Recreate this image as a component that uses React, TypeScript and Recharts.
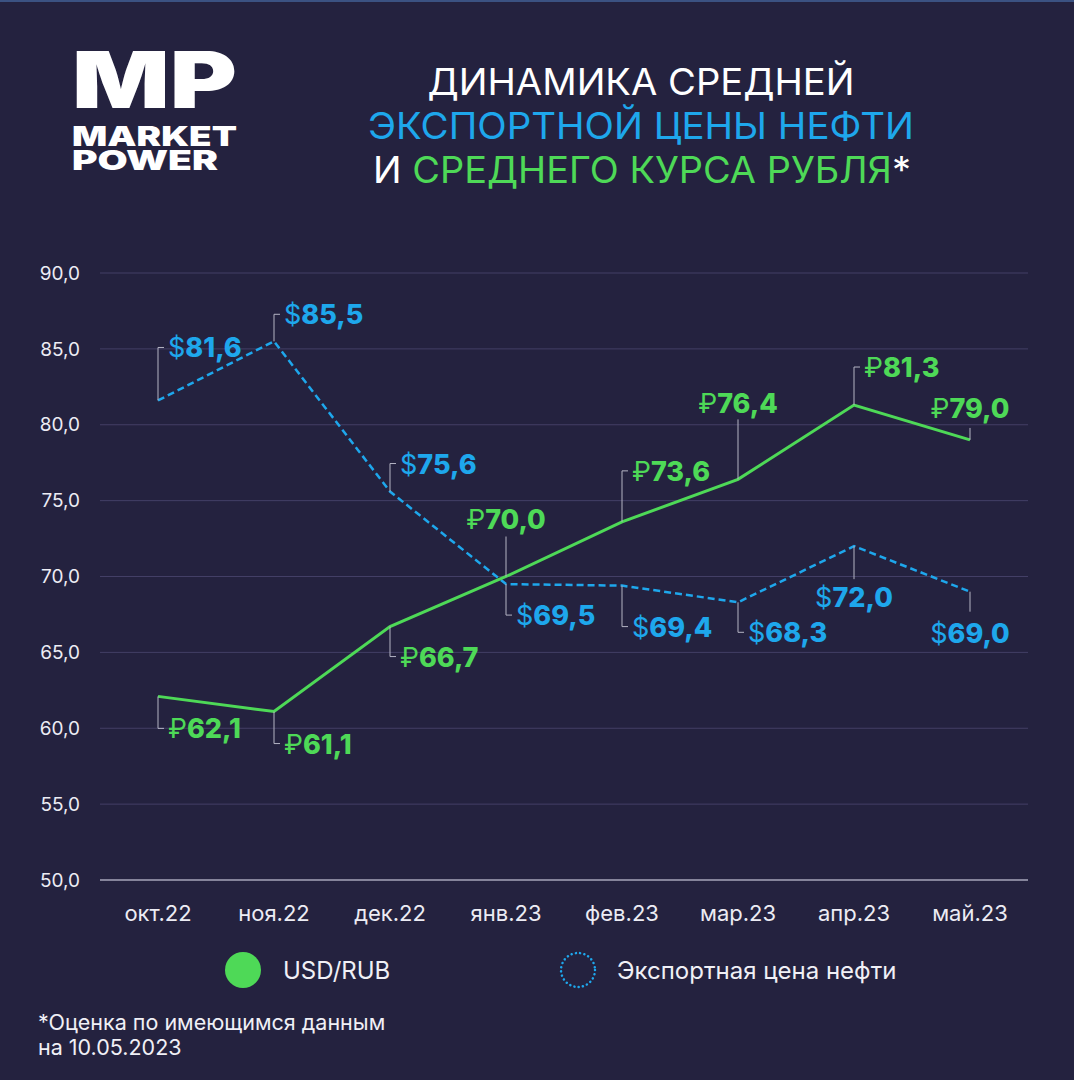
import { CartesianGrid, LabelList, Line, LineChart, XAxis, YAxis } from "recharts";

const months = ["окт.22", "ноя.22", "дек.22", "янв.23", "фев.23", "мар.23", "апр.23", "май.23"];
const usdRub = [62.1, 61.1, 66.7, 70.0, 73.6, 76.4, 81.3, 79.0];
const oilPrice = [81.6, 85.5, 75.6, 69.5, 69.4, 68.3, 72.0, 69.0];
const yTicks = [50, 55, 60, 65, 70, 75, 80, 85, 90];

// label placement: side = text to the right of the leader, center = text centred over the point
type Place = { dir: "up" | "down"; mode: "side" | "center"; len: number; gap?: number };
const rubPlaces: Place[] = [
  { dir: "down", mode: "side", len: 32 },
  { dir: "down", mode: "side", len: 32 },
  { dir: "down", mode: "side", len: 30 },
  { dir: "up", mode: "center", len: 40, gap: 8 },
  { dir: "up", mode: "side", len: 51 },
  { dir: "up", mode: "center", len: 60, gap: 6 },
  { dir: "up", mode: "side", len: 38 },
  { dir: "up", mode: "center", len: 12, gap: 10 },
];
const oilPlaces: Place[] = [
  { dir: "up", mode: "side", len: 53 },
  { dir: "up", mode: "side", len: 27 },
  { dir: "up", mode: "side", len: 28 },
  { dir: "down", mode: "side", len: 31 },
  { dir: "down", mode: "side", len: 41 },
  { dir: "down", mode: "side", len: 30 },
  { dir: "down", mode: "center", len: 33, gap: 8 },
  { dir: "down", mode: "center", len: 20, gap: 11 },
];

const data = months.map((m, i) => ({ month: m, rub: usdRub[i], oil: oilPrice[i] }));

const BG = "#24223f";
const GREEN = "#4ed957";
const BLUE = "#1ea7ec";
const FONT = "Inter, 'Noto Sans', sans-serif";

const fmt = (v: number) => v.toFixed(1).replace(".", ",");

function makeLabel(symbol: string, color: string, places: Place[]) {
  return (props: any) => {
    const { x, y, value, index } = props;
    const p = places[index];
    if (x == null || y == null || !p) return null;
    const s = p.dir === "up" ? -1 : 1;
    const ey = y + s * p.len;
    if (p.mode === "side") {
      return (
        <g>
          <polyline
            points={`${x},${y} ${x},${ey} ${x + 6},${ey}`}
            fill="none"
            stroke="#b4b4c4"
            strokeWidth={1}
          />
          <text x={x + 10} y={ey + 10} fill={color} fontSize={27} fontFamily={FONT}>
            <tspan fontWeight={400}>{symbol}</tspan>
            <tspan fontWeight={800}>{fmt(value)}</tspan>
          </text>
        </g>
      );
    }
    const ty = p.dir === "up" ? ey - (p.gap ?? 16) : ey + (p.gap ?? 16) + 20;
    return (
      <g>
        <line x1={x} y1={y} x2={x} y2={ey} stroke="#b4b4c4" strokeWidth={1} />
        <text x={x} y={ty} textAnchor="middle" fill={color} fontSize={27} fontFamily={FONT}>
          <tspan fontWeight={400}>{symbol}</tspan>
          <tspan fontWeight={800}>{fmt(value)}</tspan>
        </text>
      </g>
    );
  };
}

export default function App() {
  return (
    <div
      style={{
        position: "absolute",
        left: 0,
        top: 0,
        width: 1074,
        height: 1080,
        background: BG,
        borderTop: "2px solid #3b5282",
        boxSizing: "border-box",
        overflow: "hidden",
        fontFamily: FONT,
      }}
    >
      <LineChart
        width={1074}
        height={1080}
        data={data}
        margin={{ top: 273, right: 46, bottom: 160, left: 0 }}
        style={{ position: "absolute", left: 0, top: -2 }}
      >
        <CartesianGrid horizontal vertical={false} stroke="#433f66" strokeWidth={1} />
        <XAxis
          dataKey="month"
          height={40}
          padding={{ left: 58, right: 58 }}
          axisLine={{ stroke: "#d8d8e4", strokeWidth: 1 }}
          tickLine={false}
          tickMargin={19}
          tick={{ fill: "#ececf4", fontSize: 22, fontFamily: FONT }}
        />
        <YAxis
          width={100}
          domain={[50, 90]}
          ticks={yTicks}
          tickFormatter={fmt}
          axisLine={false}
          tickLine={false}
          tickSize={12}
          tickMargin={8}
          tick={{ fill: "#ececf4", fontSize: 19, fontFamily: FONT }}
        />
        <Line
          dataKey="oil"
          stroke={BLUE}
          strokeWidth={2.5}
          strokeDasharray="7 4"
          dot={false}
          activeDot={false}
          isAnimationActive={false}
        >
          <LabelList dataKey="oil" content={makeLabel("$", BLUE, oilPlaces)} />
        </Line>
        <Line
          dataKey="rub"
          stroke={GREEN}
          strokeWidth={3}
          dot={false}
          activeDot={false}
          isAnimationActive={false}
        >
          <LabelList dataKey="rub" content={makeLabel("₽", GREEN, rubPlaces)} />
        </Line>
      </LineChart>

      <svg
        width={1074}
        height={1080}
        style={{ position: "absolute", left: 0, top: -2, pointerEvents: "none" }}
      >
        {/* logo */}
        <text x={72} y={108} fill="#fff" fontSize={78} fontWeight={900} fontFamily={FONT}
          textLength={165} lengthAdjust="spacingAndGlyphs">MP</text>
        <text x={72} y={146} fill="#fff" fontSize={27} fontWeight={900} fontFamily={FONT}
          textLength={165} lengthAdjust="spacingAndGlyphs">MARKET</text>
        <text x={72} y={170} fill="#fff" fontSize={27} fontWeight={900} fontFamily={FONT}
          textLength={146} lengthAdjust="spacingAndGlyphs">POWER</text>

        {/* title */}
        <text x={641} y={95} textAnchor="middle" fill="#fff" fontSize={37} fontFamily={FONT}
          textLength={427} lengthAdjust="spacingAndGlyphs">ДИНАМИКА СРЕДНЕЙ</text>
        <text x={641} y={139} textAnchor="middle" fill={BLUE} fontSize={37} fontFamily={FONT}
          textLength={546} lengthAdjust="spacingAndGlyphs">ЭКСПОРТНОЙ ЦЕНЫ НЕФТИ</text>
        <text x={642} y={183} textAnchor="middle" fontSize={37} fontFamily={FONT}
          textLength={538} lengthAdjust="spacingAndGlyphs">
          <tspan fill="#fff">И </tspan>
          <tspan fill={GREEN}>СРЕДНЕГО КУРСА РУБЛЯ</tspan>
          <tspan fill="#fff">*</tspan>
        </text>

        {/* legend */}
        <circle cx={243} cy={970} r={18} fill={GREEN} />
        <text x={283} y={979} fill="#f0f0f6" fontSize={24} fontFamily={FONT}>USD/RUB</text>
        <circle cx={578} cy={970} r={17} fill="none" stroke={BLUE} strokeWidth={2.5}
          strokeDasharray="0.1 4.2" strokeLinecap="round" />
        <text x={617} y={979} fill="#f0f0f6" fontSize={24} fontFamily={FONT}>Экспортная цена нефти</text>

        {/* footnote */}
        <text x={38} y={1030} fill="#f0f0f6" fontSize={21.5} fontFamily={FONT}>*Оценка по имеющимся данным</text>
        <text x={38} y={1055} fill="#f0f0f6" fontSize={21.5} fontFamily={FONT}>на 10.05.2023</text>
      </svg>
    </div>
  );
}
